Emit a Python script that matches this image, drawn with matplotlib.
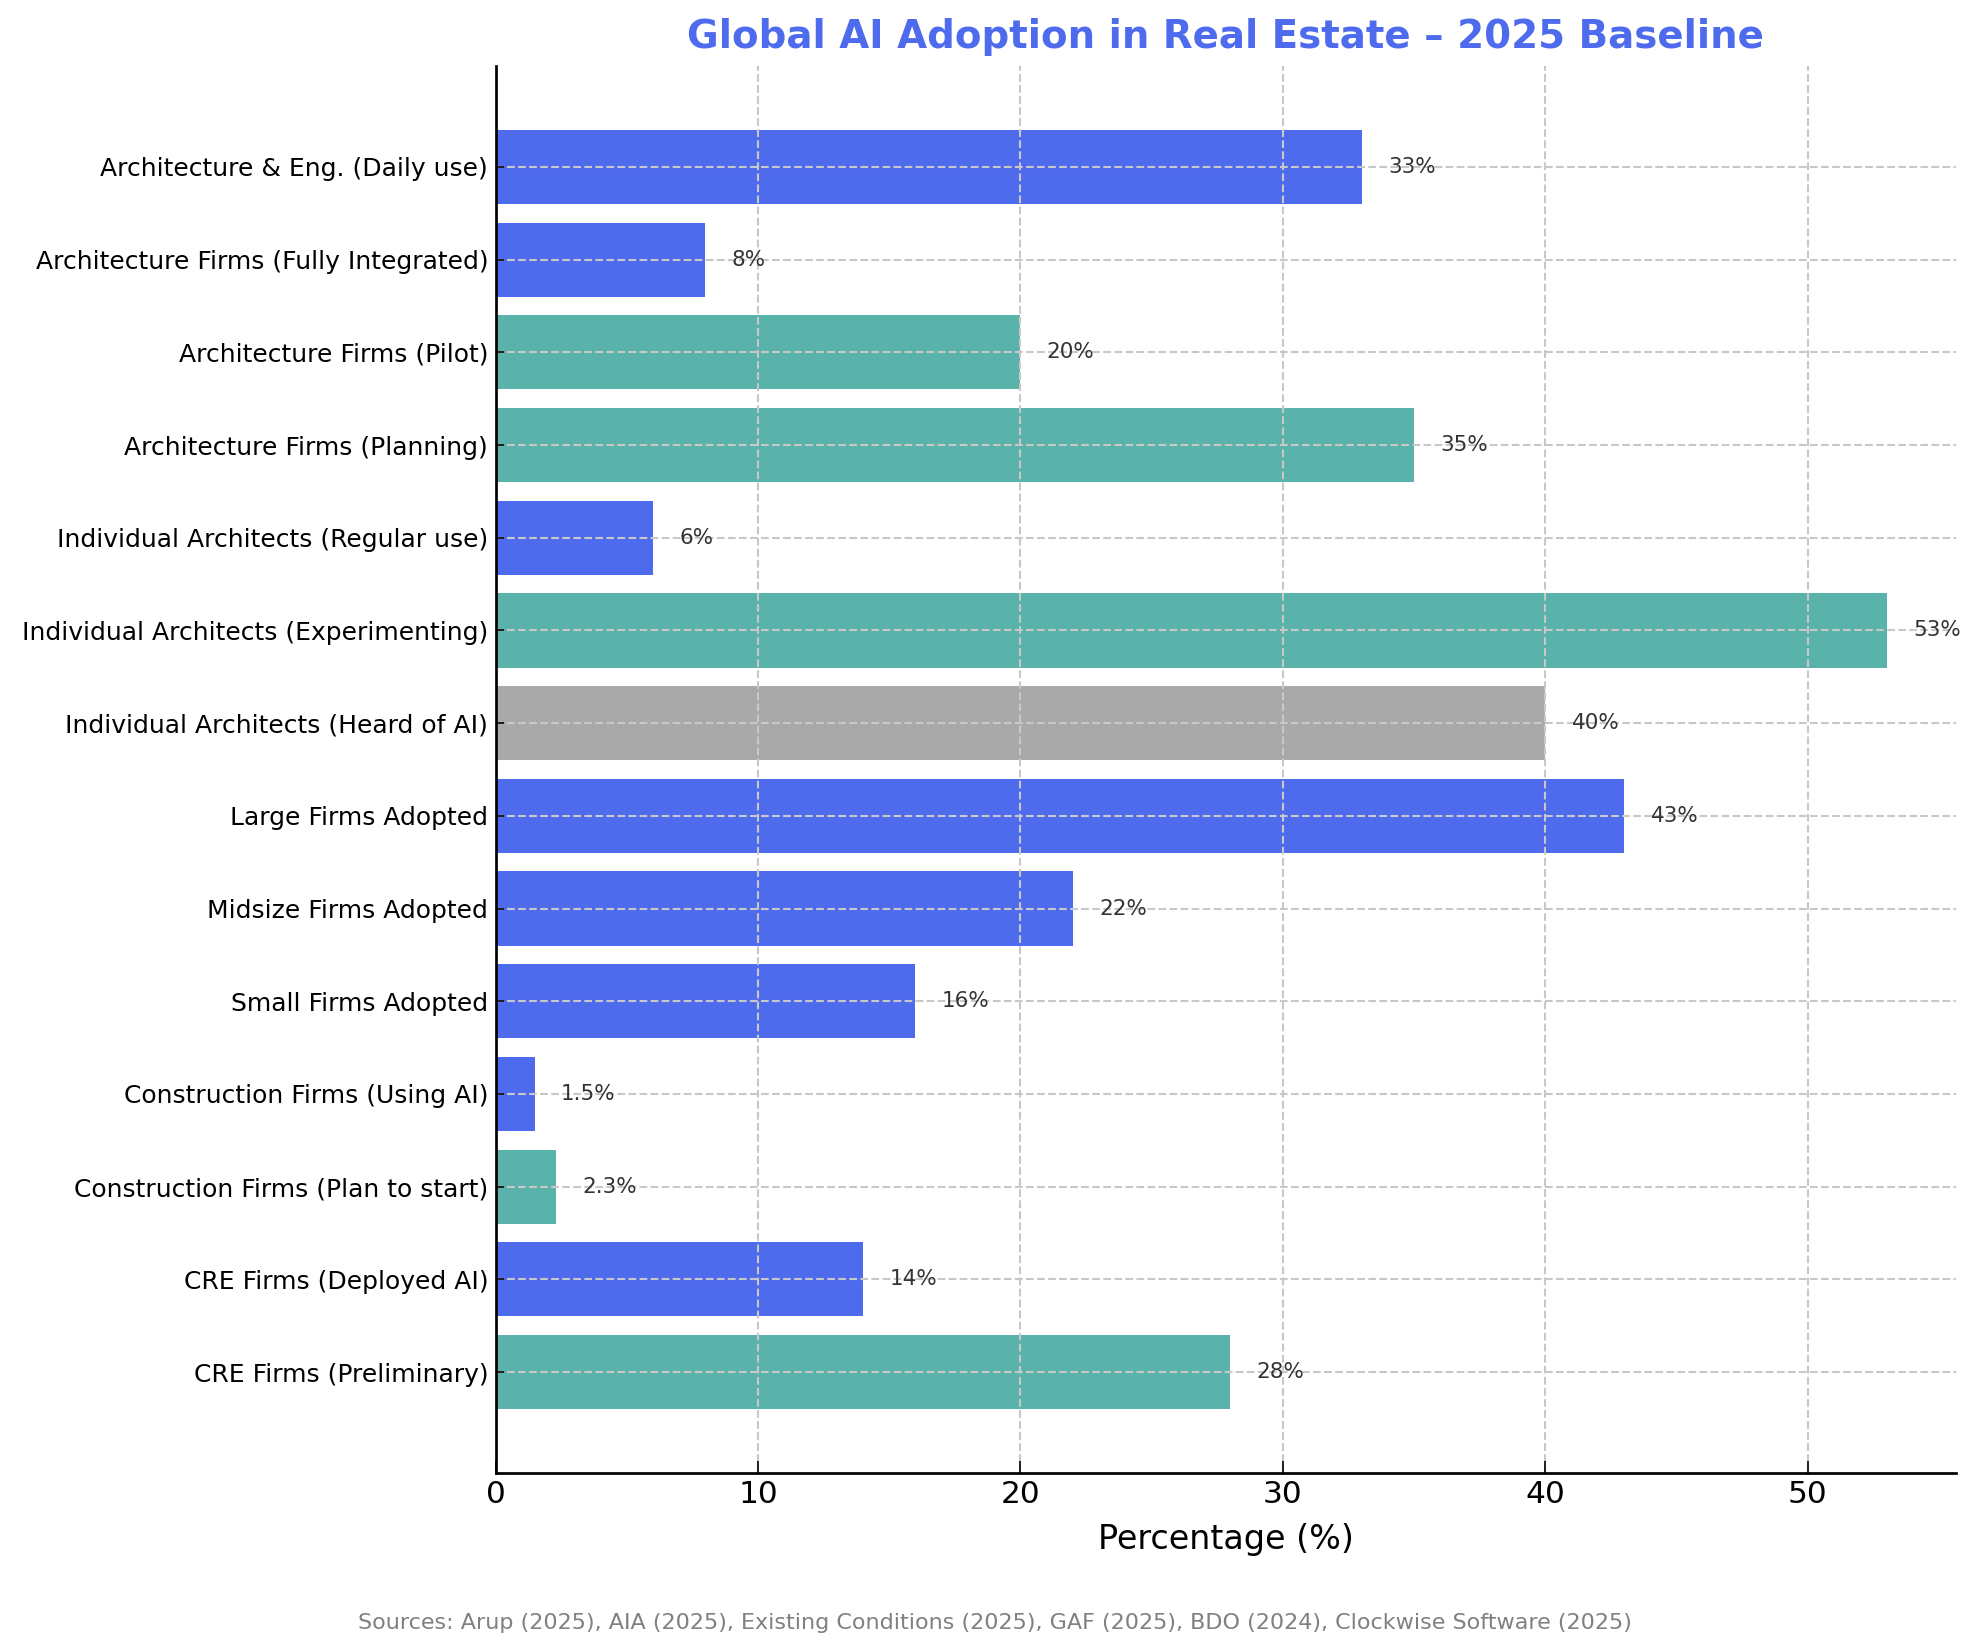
import matplotlib
matplotlib.use('Agg')
import matplotlib.pyplot as plt

# categories listed bottom -> top
categories = [
    'CRE Firms (Preliminary)',
    'CRE Firms (Deployed AI)',
    'Construction Firms (Plan to start)',
    'Construction Firms (Using AI)',
    'Small Firms Adopted',
    'Midsize Firms Adopted',
    'Large Firms Adopted',
    'Individual Architects (Heard of AI)',
    'Individual Architects (Experimenting)',
    'Individual Architects (Regular use)',
    'Architecture Firms (Planning)',
    'Architecture Firms (Pilot)',
    'Architecture Firms (Fully Integrated)',
    'Architecture & Eng. (Daily use)',
]
values = [28, 14, 2.3, 1.5, 16, 22, 43, 40, 53, 6, 35, 20, 8, 33]
stage = ['plan', 'use', 'plan', 'use', 'use', 'use', 'use',
         'aware', 'plan', 'use', 'plan', 'plan', 'use', 'use']

stage_colors = {'use': '#4F6BED', 'plan': '#5AB3AA', 'aware': '#A9A9A9'}
colors = [stage_colors[s] for s in stage]

fig = plt.figure(figsize=(1982 / 150, 1646 / 150), dpi=150)
ax = fig.add_axes([0.250, 0.105, 0.737, 0.855])

ax.barh(categories, values, color=colors, height=0.8)

for i, v in enumerate(values):
    ax.text(v + 1, i, '{:g}%'.format(v), ha='left', va='center',
            fontsize=10.3, color='#333333')

ax.set_xlim(left=0)
ax.set_title('Global AI Adoption in Real Estate \u2013 2025 Baseline',
             fontsize=18.6, fontweight='bold', color='#4F6BED', pad=8.5)
ax.set_xlabel('Percentage (%)', fontsize=16, labelpad=6.5)
ax.grid(True, linestyle='--', color='#c8c8c8', linewidth=1)
ax.tick_params(axis='x', labelsize=15, direction='in', length=6)
ax.tick_params(axis='y', labelsize=12, direction='in', length=4)
ax.spines['top'].set_visible(False)
ax.spines['right'].set_visible(False)
ax.spines['left'].set_linewidth(1.3)
ax.spines['bottom'].set_linewidth(1.3)

fig.text(0.502, 0.014,
         'Sources: Arup (2025), AIA (2025), Existing Conditions (2025), GAF (2025), BDO (2024), Clockwise Software (2025)',
         ha='center', va='center', fontsize=10.7, color='gray')

plt.savefig('out.png', dpi=150)
